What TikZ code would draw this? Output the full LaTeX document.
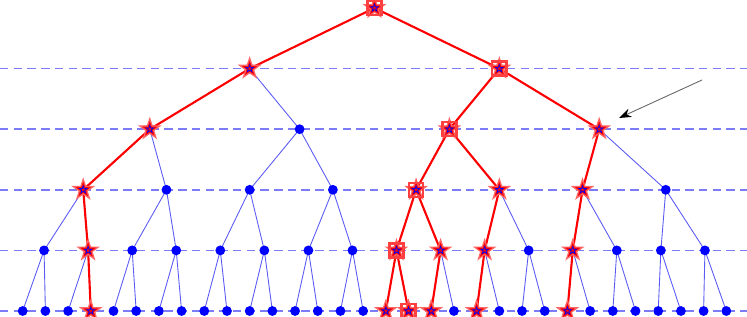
\documentclass[tikz,border=0pt]{standalone}
\usepackage{xcolor}
\usepackage{tikz}
\usetikzlibrary{shapes.geometric,arrows.meta}
\definecolor{treeblue}{HTML}{0000FF}
\definecolor{edgeblue}{HTML}{5A5AF5}
\definecolor{dashblue}{HTML}{7C7CF8}
\definecolor{pathred}{HTML}{FF0000}

\begin{document}
\begin{tikzpicture}[x=0.02cm, y=-0.02cm,
    level line/.style={dashblue, dash pattern=on 4.8pt off 3pt, line width=0.9pt},
    tree edge/.style={edgeblue, line width=0.5pt},
    path edge/.style={pathred, line width=1.2pt},
    dot/.style={circle, fill=treeblue, inner sep=0pt, minimum size=5.6pt},
    redstar/.style={star, star points=5, star point ratio=2.6, fill=pathred, draw=pathred!60, line width=0.7pt, inner sep=0pt, minimum size=12pt},
    bluestar/.style={star, star points=5, star point ratio=2.6, draw=treeblue, line width=0.4pt, inner sep=0pt, minimum size=4.5pt},
    redbox/.style={rectangle, draw=pathred!75, line width=1.3pt, inner sep=0pt, minimum size=8pt}]
  \useasboundingbox (0,0) rectangle (747,317);
  % tree nodes: level n, position i
  \foreach \n in {0,...,5} {
    \pgfmathtruncatemacro{\last}{2^\n-1}
    \foreach \i in {0,...,\last}
      \coordinate (v\n-\i) at ({(\i+1)/(2^\n+1)*749}, {8+60.6*\n});
  }
  % dashed level lines
  \foreach \n in {1,...,5} {
    \coordinate (l\n) at (0,{8+60.6*\n});
    \coordinate (r\n) at (747,{8+60.6*\n});
    \draw[level line] (l\n) -- (r\n);
  }
  % all edges
  \foreach \n in {0,...,4} {
    \pgfmathtruncatemacro{\last}{2^\n-1}
    \pgfmathtruncatemacro{\k}{\n+1}
    \foreach \i in {0,...,\last} {
      \pgfmathtruncatemacro{\a}{2*\i}
      \pgfmathtruncatemacro{\b}{2*\i+1}
      \draw[tree edge] (v\k-\a) -- (v\n-\i) -- (v\k-\b);
    }
  }
  % selected edges
  \foreach \p/\c in {0-0/1-0, 0-0/1-1, 1-0/2-0, 2-0/3-0, 3-0/4-1, 4-1/5-3,
                     1-1/2-2, 1-1/2-3, 2-2/3-4, 2-2/3-5, 3-4/4-8, 3-4/4-9,
                     4-8/5-16, 4-8/5-17, 4-9/5-18, 3-5/4-10, 4-10/5-20,
                     2-3/3-6, 3-6/4-12, 4-12/5-24}
    \draw[path edge] (v\p) -- (v\c);
  % markers
  \foreach \n in {0,...,5} {
    \pgfmathtruncatemacro{\last}{2^\n-1}
    \foreach \i in {0,...,\last}
      \node[dot] (d\n-\i) at (v\n-\i) {};
  }
  \foreach \v in {0-0, 1-0, 1-1, 2-0, 2-2, 2-3, 3-0, 3-4, 3-5, 3-6,
                  4-1, 4-8, 4-9, 4-10, 4-12, 5-3, 5-16, 5-17, 5-18, 5-20, 5-24} {
    \node[redstar] (s\v) at (v\v) {};
    \node[bluestar] (b\v) at (v\v) {};
  }
  \foreach \v in {0-0, 1-1, 2-2, 3-4, 4-8, 5-17}
    \node[redbox] (q\v) at (v\v) {};
  % pointer
  \coordinate (tail) at (702,80);
  \coordinate (tip) at (619,118);
  \draw[gray!80!black, line width=0.5pt, -{Stealth[length=7pt,width=5pt,black]}] (tail) -- (tip);
\end{tikzpicture}
\end{document}
